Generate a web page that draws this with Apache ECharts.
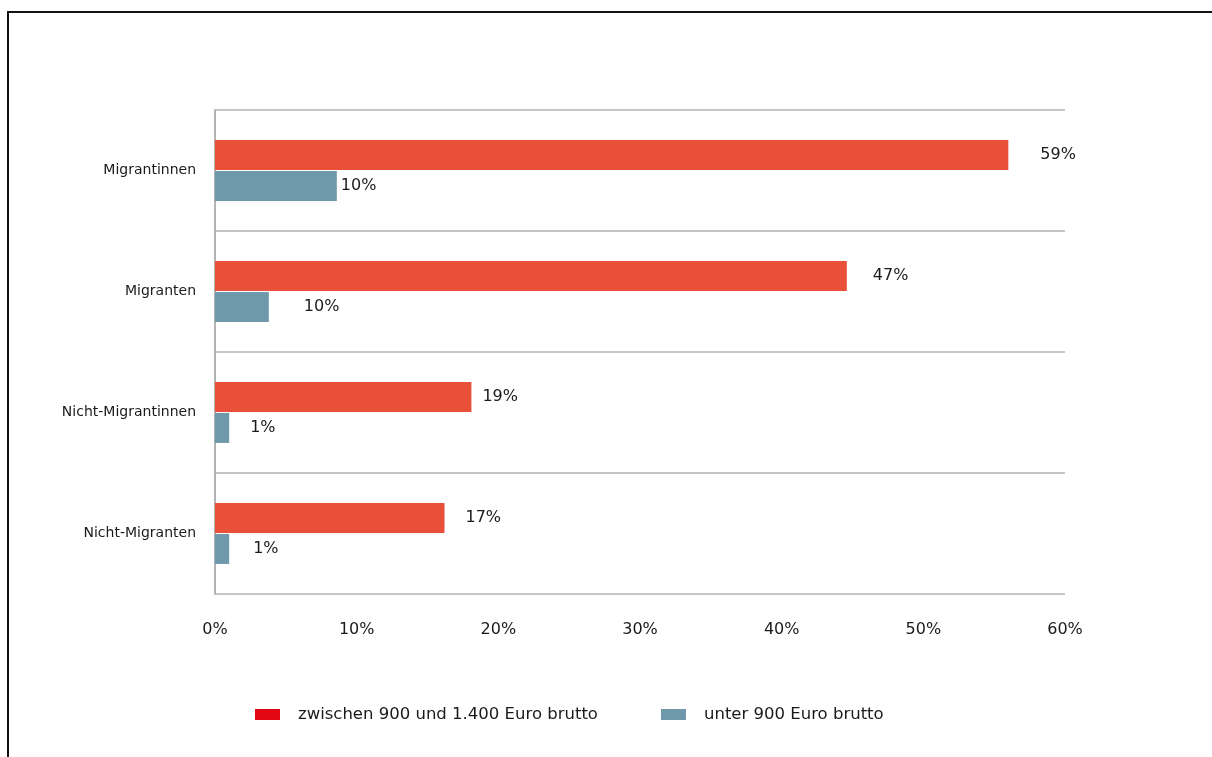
<!DOCTYPE html>
<html>
<head>
<meta charset="utf-8">
<script src="https://cdn.jsdelivr.net/npm/echarts@6/dist/echarts.min.js"></script>
<style>
  html, body { margin: 0; padding: 0; background: #fff; }
  #frame { position: absolute; left: 7px; top: 11px; width: 1212px; height: 760px;
           border-left: 2px solid #111; border-top: 2px solid #111; }
  #chart { position: absolute; left: 0; top: 0; width: 1212px; height: 757px; }
</style>
</head>
<body>
<div id="frame"></div>
<div id="chart"></div>
<script>
// Kategorien (von oben nach unten)
const categories = ['Migrantinnen', 'Migranten', 'Nicht-Migrantinnen', 'Nicht-Migranten']
const seriesNames = ['zwischen 900 und 1.400 Euro brutto', 'unter 900 Euro brutto']
// Balkenlängen wie gezeichnet (%)
const midValues = [56, 44.6, 18.1, 16.2]
const lowValues = [8.6, 3.8, 1, 1]
// Beschriftungen wie im Original
const midLabels = ['59%', '47%', '19%', '17%']
const lowLabels = ['10%', '10%', '1%', '1%']
const xTicks = [0, 10, 20, 30, 40, 50, 60]

const font = 'Tahoma, "DejaVu Sans", sans-serif'
const textColor = '#1a1a1a'

// Abstände der Beschriftungen zum Balkenende
const midGap = [32, 26, 11, 21]
const lowGap = [4, 35, 21, 24]

function buildData(values, labels, gaps) {
  return values.map((v, i) => ({
    value: v,
    label: { formatter: labels[i], distance: gaps[i] }
  }))
}

const chart = echarts.init(document.getElementById('chart'))
chart.setOption({
  animation: false,
  grid: { left: 215, right: 147, top: 110, bottom: 163, containLabel: false },
  legend: {
    bottom: 29,
    left: 250,
    itemWidth: 25,
    itemHeight: 11,
    itemGap: 63,
    icon: 'rect',
    textStyle: { fontFamily: font, fontSize: 16.5, color: textColor, padding: [0, 0, 0, 13] },
    data: [
      { name: seriesNames[0], itemStyle: { color: '#E30613' } },
      { name: seriesNames[1], itemStyle: { color: '#7098AB' } }
    ]
  },
  xAxis: {
    type: 'value',
    min: xTicks[0],
    max: xTicks[xTicks.length - 1],
    interval: 10,
    axisLine: { show: false },
    axisTick: { show: false },
    splitLine: { show: false },
    axisLabel: {
      formatter: '{value}%',
      fontFamily: font,
      fontSize: 16,
      color: textColor,
      margin: 28
    }
  },
  yAxis: {
    type: 'category',
    data: categories,
    inverse: true,
    axisLine: { show: true, lineStyle: { color: '#b3b3b3', width: 2 } },
    axisTick: { show: false },
    splitLine: { show: true, lineStyle: { color: '#b3b3b3', width: 1.5 } },
    axisLabel: {
      fontFamily: font,
      fontSize: 14,
      color: textColor,
      margin: 19
    }
  },
  series: [
    {
      name: seriesNames[0],
      type: 'bar',
      barWidth: 30,
      barGap: '3%',
      itemStyle: { color: '#E8503A' },
      label: { show: true, position: 'right', fontFamily: font, fontSize: 16, color: textColor },
      data: buildData(midValues, midLabels, midGap)
    },
    {
      name: seriesNames[1],
      type: 'bar',
      barWidth: 30,
      itemStyle: { color: '#7098AB' },
      label: { show: true, position: 'right', fontFamily: font, fontSize: 16, color: textColor },
      data: buildData(lowValues, lowLabels, lowGap)
    }
  ]
})
</script>
</body>
</html>
